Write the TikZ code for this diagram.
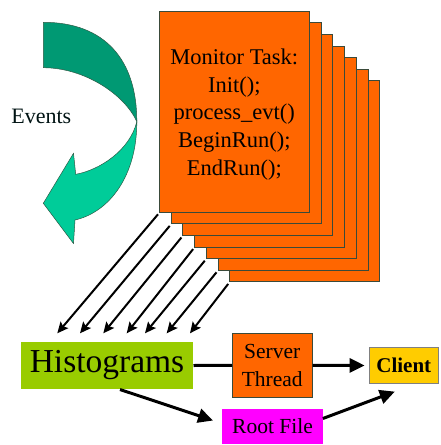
\documentclass[tikz,border=0pt]{standalone}
\usepackage{fontspec}
\setmainfont{Liberation Serif}
\usetikzlibrary{arrows.meta}
\definecolor{cardorange}{HTML}{FF6600}
\definecolor{histgreen}{HTML}{99CC00}
\definecolor{clientgold}{HTML}{FFCC00}
\definecolor{rootmag}{HTML}{FF00FF}
\definecolor{darkteal}{HTML}{009973}
\definecolor{lightteal}{HTML}{00CC99}
\definecolor{edgegray}{HTML}{3A4A3A}
\tikzset{
  card/.style={draw=edgegray, line width=0.6pt, fill=cardorange, minimum width=150pt, minimum height=201pt, inner sep=0pt},
  boxnode/.style={inner sep=0pt, align=center},
  diag/.style={line width=2pt, -{Stealth[length=11pt,width=10pt,inset=2pt]}},
  bigarrow/.style={line width=3pt, -{Triangle[length=15pt,width=14pt]}},
  plainline/.style={line width=3pt}
}
\begin{document}
\begin{tikzpicture}[x=1pt,y=-1pt]
\useasboundingbox (0,0) rectangle (441,445);
% stacked monitor task cards, back to front
\foreach \i in {6,5,...,0} {
  \node[card] (c\i) at ({234.3+11.7*\i},{111.5+11.6*\i}) {};
}
\node[boxnode, font=\fontsize{22.5pt}{27.7pt}\selectfont] (mtext) at (234.3,114.5)
  {Monitor Task:\\Init();\\process\_evt()\\BeginRun();\\EndRun();};

% curved Events arrow
\filldraw[fill=darkteal, draw=edgegray!80!darkteal, line width=0.5pt]
  (43.3,22.3) .. controls (105,22.3) and (137,60) .. (136.8,121.7)
  .. controls (125,95) and (85,67.7) .. (43.3,67.7) -- cycle;
\filldraw[fill=lightteal, draw=edgegray!80!darkteal, line width=0.5pt]
  (136.8,121.7) .. controls (137,175) and (110,212) .. (75,220)
  -- (73.5,243.5) -- (43.3,203.3) -- (73.5,153.3) -- (75.7,174.3)
  .. controls (100,170) and (130,150) .. (136.8,121.7) -- cycle;
\node[boxnode, font=\fontsize{22pt}{26pt}\selectfont, text=black!85!teal] (events) at (41.3,116.5) {Events};

% bottom nodes
\node[boxnode, fill=histgreen, minimum width=172.6pt, minimum height=47.6pt,
      font=\fontsize{33.5pt}{38pt}\selectfont] (hist) at (107,365.5) {Histograms};
\node[boxnode, draw=edgegray, line width=0.6pt, fill=cardorange, minimum width=80pt, minimum height=64pt,
      font=\fontsize{21.5pt}{28pt}\selectfont] (server) at (272.3,365.3) {Server\\Thread};
\node[boxnode, draw=gray, line width=0.6pt, fill=clientgold, minimum width=69.7pt, minimum height=35.6pt,
      font=\fontsize{21pt}{25pt}\selectfont\bfseries] (client) at (403.8,365.5) {Client};
\node[boxnode, fill=rootmag, minimum width=100.4pt, minimum height=35pt,
      font=\fontsize{21.5pt}{25pt}\selectfont] (root) at (272.5,426.5) {Root File};

% diagonal arrows from the cards to Histograms
\foreach \i/\tx in {0/57.3,1/80,2/103.3,3/126.7,4/145,5/166.7,6/190} {
  \coordinate (t\i) at (\tx,333.3);
  \draw[diag] ([shift={(-1,2)}]c\i.south west) -- (t\i);
}

% connectors between bottom nodes
\draw[plainline] (hist.east) -- (server.west);
\draw[bigarrow] (server.east) -- ([xshift=-4pt]client.west);
\draw[bigarrow] ([xshift=13pt]hist.south) -- ([shift={(-9,-6)}]root.west);
\draw[bigarrow] ([shift={(0,-8)}]root.east) -- ([shift={(-9,8)}]client.south);
\end{tikzpicture}
\end{document}
